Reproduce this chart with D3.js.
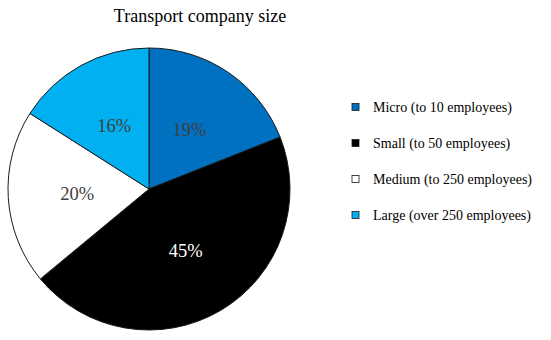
<!DOCTYPE html>
<html><head><meta charset="utf-8">
<script src="https://cdn.jsdelivr.net/npm/d3@7"></script>
<style>body{margin:0;background:#fff}</style>
</head><body>
<svg id="c" width="551" height="340"></svg>
<script>
const categories = ["Micro (to 10 employees)", "Small (to 50 employees)", "Medium (to 250 employees)", "Large (over 250 employees)"];
const values = [19, 45, 20, 16];
const labels = ["19%", "45%", "20%", "16%"];
const colors = ["#0070C0", "#000000", "#FFFFFF", "#00B0F0"];
const labelColors = ["#404040", "#FFFFFF", "#404040", "#404040"];

const svg = d3.select("#c");
const font = "'Liberation Serif','Times New Roman',serif";
svg.append("text").attr("x", 200).attr("y", 22).attr("text-anchor", "middle")
  .attr("font-family", font).attr("font-size", 18).attr("fill", "#000").text("Transport company size");

const cx = 149, cy = 189, R = 141;
const pie = d3.pie().sort(null).value(d => d)(values);
const arc = d3.arc().innerRadius(0).outerRadius(R);
const lab = d3.arc().innerRadius(72).outerRadius(72);
const g = svg.append("g").attr("transform", `translate(${cx},${cy})`);
g.selectAll("path").data(pie).join("path").attr("d", arc)
  .attr("fill", (d, i) => colors[i]).attr("stroke", "#1a1a1a").attr("stroke-width", 1);
g.selectAll("text").data(pie).join("text")
  .attr("transform", d => `translate(${lab.centroid(d)})`)
  .attr("text-anchor", "middle").attr("dy", "0.35em")
  .attr("font-family", font).attr("font-size", 18.5)
  .attr("fill", (d, i) => labelColors[i]).text((d, i) => labels[i]);

const ly = d3.scalePoint().domain(categories).range([107, 215]);
const lg = svg.append("g");
categories.forEach((c, i) => {
  lg.append("rect").attr("x", 352).attr("y", ly(c) - 3.5).attr("width", 7).attr("height", 7)
    .attr("fill", colors[i]).attr("stroke", "#1a1a1a").attr("stroke-width", 0.8);
  lg.append("text").attr("x", 373).attr("y", ly(c)).attr("dy", "0.35em")
    .attr("font-family", font).attr("font-size", 14).attr("fill", "#000").text(c);
});
</script>
</body></html>
